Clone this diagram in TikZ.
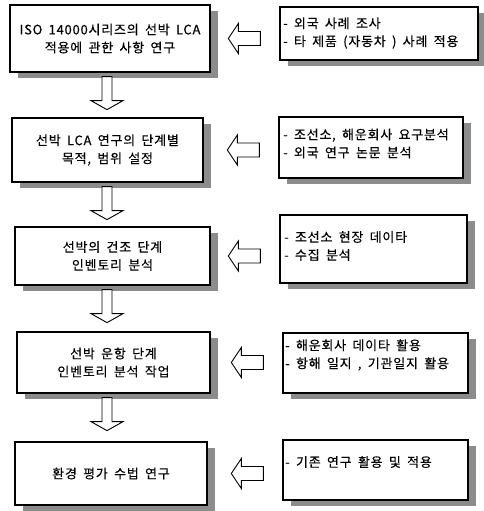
\documentclass[tikz,border=0pt]{standalone}
\usepackage{fontspec}
\setmainfont{Noto Sans CJK KR}[LetterSpace=6, FakeBold=0.3, WordSpace=1.7]
\usetikzlibrary{shadows}
\tikzset{
  box/.style={draw=black, line width=1.3pt, fill=white,
    drop shadow={shadow xshift=8pt, shadow yshift=-6pt, fill=black!45, opacity=1},
    inner sep=0pt, align=center, font=\fontsize{13}{18}\selectfont},
  rtext/.style={inner sep=0pt, anchor=west, align=left, font=\fontsize{13}{18}\selectfont},
  hollow/.style={draw=black, line width=0.9pt, fill=white, line join=miter},
  downarr/.pic={\path[hollow] (-5,0) -- (5,0) -- (5,24) -- (16,24) -- (0,33) -- (-16,24) -- (-5,24) -- cycle;},
  leftarr/.pic={\path[hollow] (0,0) -- (10,-15) -- (10,-7) -- (32,-7) -- (32,7) -- (10,7) -- (10,15) -- cycle;}
}
\begin{document}
\begin{tikzpicture}[x=1pt,y=-1pt]
\useasboundingbox (0,0) rectangle (483,511);
% left boxes
\node[box, minimum width=200pt, minimum height=67pt] (L1) at (110,38.5) {ISO 14000시리즈의 선박 LCA\\적용에 관한 사항 연구};
\node[box, minimum width=191pt, minimum height=64pt] (L2) at (107.5,150) {선박 LCA 연구의 단계별\\목적, 범위 설정};
\node[box, minimum width=195pt, minimum height=58pt] (L3) at (112.5,256) {선박의 건조 단계\\인벤토리 분석};
\node[box, minimum width=193pt, minimum height=61pt] (L4) at (113.5,362.5) {선박 운항 단계\\인벤토리 분석 작업};
\node[box, minimum width=192pt, minimum height=63pt] (L5) at (111,473.5) {환경 평가 수법 연구};
% right boxes
\node[box, minimum width=198pt, minimum height=53pt] (R1) at (379,33.5) {};
\node[box, minimum width=184pt, minimum height=61pt] (R2) at (371,147.5) {};
\node[box, minimum width=187pt, minimum height=68pt] (R3) at (373.5,249) {};
\node[box, minimum width=185pt, minimum height=60pt] (R4) at (375.5,363) {};
\node[box, minimum width=185pt, minimum height=60pt] (R5) at (375.5,470) {};
% right texts
\node[rtext] (R1t) at (283,33) {- 외국 사례 조사\\- 타 제품 (자동차 ) 사례 적용};
\node[rtext] (R2t) at (283,143.5) {- 조선소, 해운회사 요구분석\\- 외국 연구 논문 분석};
\node[rtext] (R3t) at (284,246) {- 조선소 현장 데이타\\- 수집 분석};
\node[rtext] (R4t) at (285,355) {- 해운회사 데이타 활용\\- 항해 일지 , 기관일지 활용};
\node[rtext] (R5t) at (285,462) {- 기존 연구 활용 및 적용};
% down arrows
\coordinate (ax) at (107,0);
\foreach \a in {1,2,3,4} {
  \pic at ([yshift=-4pt]L\a.south -| ax) {downarr};
}
% left arrows
\foreach \a in {1,...,5} {
  \coordinate (la\a) at (R\a.west |- L\a.east);
  \pic at ([xshift=-51pt]la\a) {leftarr};
}
\end{tikzpicture}
\end{document}
